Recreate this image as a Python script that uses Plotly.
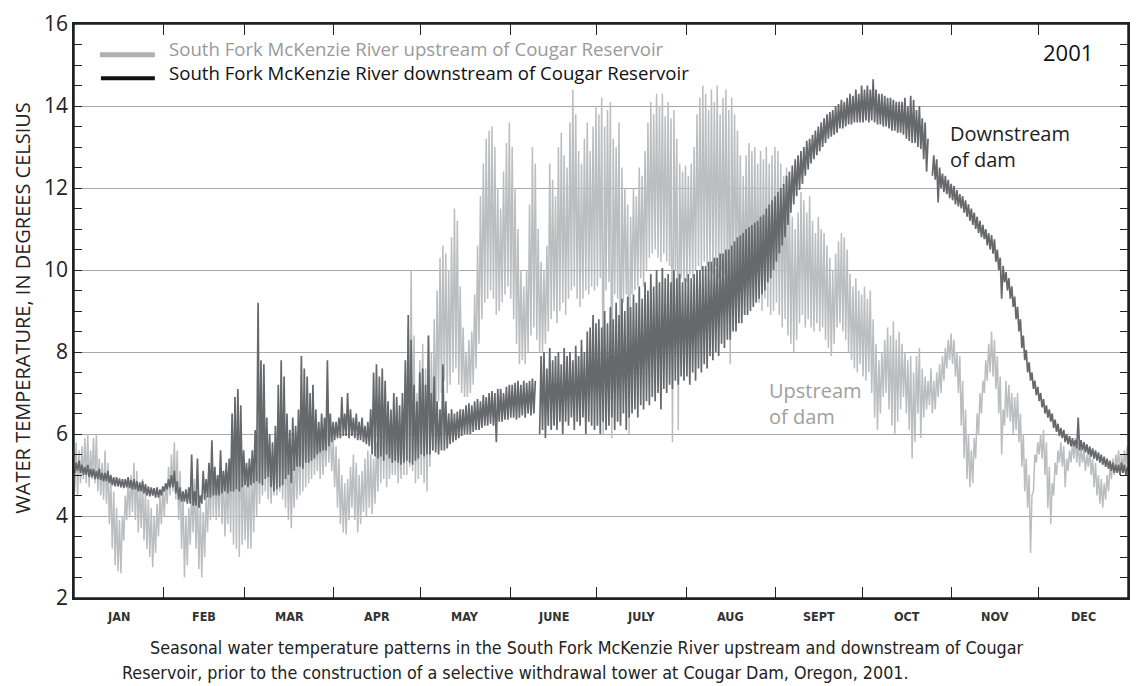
import plotly.graph_objects as go

# ---------------- data (daily low / high) ----------------
MONTHS = ["JAN", "FEB", "MAR", "APR", "MAY", "JUNE", "JULY", "AUG", "SEPT", "OCT", "NOV", "DEC"]
MONTH_DAYS = [31, 28, 31, 30, 31, 30, 31, 31, 30, 31, 30, 31]

# Downstream of Cougar Reservoir (dark)
DN_LO = [
    5.05,5.1,5.05,5.0,5.0,4.95,4.95,4.9,4.9,4.88,4.85,4.85,4.8,4.75,4.72,4.72,4.7,4.68,4.7,4.68,4.65,4.65,4.6,4.6,4.55,4.5,4.48,4.5,4.45,4.45,4.5,
    4.6,4.65,4.7,4.7,4.55,4.4,4.35,4.35,4.3,4.3,4.25,4.25,4.2,4.3,4.4,4.45,4.45,4.5,4.5,4.5,4.55,4.6,4.55,4.6,4.6,4.65,4.6,4.7,
    4.75,4.7,4.75,4.8,4.85,4.8,4.75,4.9,4.95,4.7,4.6,4.65,4.7,4.75,4.9,5.0,4.8,5.1,5.2,5.2,5.15,5.3,5.3,5.35,5.4,5.5,5.55,5.6,5.6,5.7,5.8,
    5.85,5.9,5.9,5.95,5.95,5.9,5.95,5.9,5.85,5.85,5.8,5.75,5.7,5.5,5.45,5.4,5.45,5.35,5.5,5.4,5.3,5.35,5.3,5.25,5.3,5.35,5.3,5.25,5.35,5.4,
    5.5,5.45,5.5,5.5,5.6,5.55,5.5,5.6,5.6,5.65,5.75,5.8,5.85,5.9,5.95,6.0,6.0,6.0,6.05,6.1,6.1,6.15,6.2,6.2,6.25,6.2,5.8,6.3,6.3,6.35,6.35,
    6.4,6.4,6.35,6.4,6.45,6.4,6.5,6.45,6.5,None,6.0,6.1,5.9,6.2,6.1,6.2,6.1,6.3,6.0,6.3,6.2,6.4,6.1,6.3,6.2,6.4,6.0,6.3,6.2,6.1,
    6.2,6.0,6.3,6.1,6.2,6.4,6.1,6.3,6.2,6.5,6.1,6.4,6.5,6.6,6.4,6.7,6.6,6.8,6.7,6.9,6.8,7.0,6.6,7.1,7.0,7.2,7.1,7.3,7.2,7.4,7.3,
    7.4,7.2,7.5,7.3,7.6,7.5,7.7,7.6,7.9,7.8,8.0,7.9,8.2,8.1,8.3,8.3,8.5,8.5,8.7,8.7,8.9,8.9,9.0,9.1,9.2,9.3,9.4,9.5,9.7,9.8,10.0,
    10.2,10.4,10.6,10.8,11.1,11.4,11.6,11.8,11.95,12.1,12.3,12.45,12.6,12.7,12.8,12.9,13.0,13.1,13.2,13.25,13.3,13.35,13.45,13.45,13.5,13.55,13.55,13.6,13.6,13.6,
    13.6,13.65,13.6,13.65,13.6,13.55,13.55,13.5,13.5,13.45,13.4,13.4,13.35,13.35,13.3,13.2,13.15,13.1,13.1,13.0,12.95,12.7,12.4,None,12.3,12.2,11.65,12.0,11.9,11.85,11.75,
    11.7,11.6,11.55,11.5,11.4,11.3,11.2,11.1,11.0,10.9,10.8,10.75,10.6,10.5,10.4,10.2,10.0,9.3,9.7,9.5,9.3,9.1,8.8,8.5,8.1,7.8,7.5,7.3,7.1,6.95,
    6.8,6.65,6.5,6.4,6.3,6.15,6.05,5.95,5.9,5.8,5.75,5.7,5.7,5.65,5.6,5.6,5.55,5.5,5.45,5.4,5.35,5.3,5.25,5.2,5.15,5.1,5.05,5.05,5.0,5.05,5.0,
]
DN_HI = [
    5.3,5.35,5.25,5.2,5.25,5.15,5.15,5.1,5.15,5.05,5.05,5.1,5.0,4.95,4.95,4.92,4.9,4.9,4.95,4.88,4.9,4.85,4.82,4.85,4.78,4.72,4.7,4.68,4.7,4.65,4.72,
    4.8,4.9,5.0,5.1,4.85,4.7,4.6,4.65,4.7,5.5,4.6,5.4,4.5,5.1,4.9,5.3,5.85,5.2,5.0,5.6,5.1,5.3,5.4,6.5,6.9,7.1,6.7,5.6,
    5.3,5.4,5.6,6.1,9.2,7.8,7.7,6.4,6.0,5.8,6.2,7.2,7.8,7.4,6.5,6.1,6.4,6.2,6.6,7.9,7.6,7.4,7.0,7.2,6.6,6.3,6.5,6.4,7.8,6.5,6.3,
    6.3,6.4,6.9,6.5,7.0,6.6,6.4,6.5,6.3,6.4,6.2,6.3,6.6,7.5,7.7,7.4,7.6,7.3,6.8,6.6,7.0,6.9,6.7,7.0,7.8,8.9,8.3,7.2,6.8,7.5,
    7.6,7.2,8.4,7.0,7.4,6.8,6.6,7.7,6.8,6.5,6.6,6.5,6.55,6.6,6.6,6.7,6.75,6.7,6.8,6.85,6.8,6.95,6.9,7.0,7.05,7.0,7.1,7.1,7.0,7.15,7.2,
    7.2,7.25,7.3,7.2,7.3,7.25,7.3,7.35,7.3,None,7.9,8.0,7.6,8.1,7.8,7.9,8.0,7.7,8.1,7.9,8.0,7.8,8.15,7.9,8.3,8.0,8.5,8.6,8.9,8.7,
    8.8,8.6,9.0,8.7,9.1,8.8,9.2,8.9,9.3,9.0,9.35,9.1,9.4,9.2,9.6,9.3,9.7,9.5,9.9,9.6,10.0,9.7,10.05,9.8,9.9,9.7,10.0,9.8,9.9,9.7,9.8,
    9.9,9.8,9.9,10.0,10.0,10.1,10.1,10.2,10.2,10.3,10.3,10.4,10.4,10.5,10.5,10.6,10.7,10.8,10.85,10.9,11.0,11.05,11.1,11.15,11.2,11.3,11.35,11.5,11.6,11.7,11.8,
    11.9,12.0,12.1,12.3,12.4,12.55,12.7,12.8,12.9,13.0,13.15,13.2,13.3,13.4,13.5,13.6,13.7,13.8,13.85,13.9,14.0,14.05,14.15,14.1,14.2,14.3,14.25,14.4,14.3,14.5,
    14.4,14.5,14.4,14.65,14.4,14.3,14.3,14.25,14.2,14.2,14.15,14.1,14.1,14.1,14.2,14.0,14.25,14.15,13.9,14.0,13.7,13.6,13.2,None,12.8,12.7,12.5,12.35,12.3,12.2,12.1,
    12.05,11.95,11.85,11.8,11.7,11.6,11.5,11.4,11.3,11.2,11.1,11.0,10.9,10.85,10.75,10.5,10.3,10.1,9.95,9.8,9.6,9.35,9.1,8.8,8.4,8.05,7.75,7.5,7.3,7.15,
    7.0,6.85,6.7,6.6,6.5,6.35,6.25,6.15,6.1,6.0,5.95,5.9,5.85,6.4,5.85,5.8,5.75,5.7,5.65,5.6,5.55,5.5,5.45,5.4,5.35,5.3,5.25,5.25,5.3,5.25,5.2,
]

# Upstream of Cougar Reservoir (light)
UP_LO = [
    4.6,4.5,4.8,4.9,4.8,4.7,4.9,4.8,4.6,4.5,4.4,4.3,3.8,3.2,2.8,2.65,2.6,3.4,3.9,4.0,4.1,3.9,3.6,3.7,3.4,3.2,3.0,2.75,3.1,3.5,3.8,
    4.0,4.3,4.5,4.6,4.4,3.9,3.2,2.5,2.8,3.3,3.6,3.2,2.7,2.5,3.0,3.6,3.9,4.0,3.9,4.0,3.8,3.5,3.8,3.6,3.3,3.2,3.0,3.3,
    3.4,3.2,3.2,3.6,4.0,4.3,4.5,4.6,4.4,4.3,4.5,4.5,4.6,4.4,4.2,3.9,3.7,4.2,4.4,4.5,4.6,4.7,4.8,4.9,5.0,5.1,4.9,5.0,5.2,5.3,5.1,
    4.7,4.2,3.8,3.6,3.55,3.9,4.2,3.9,3.6,3.8,4.1,4.0,4.2,4.05,4.3,4.6,4.8,4.9,4.7,4.9,5.0,5.0,4.8,4.9,5.0,5.0,5.2,5.1,4.8,4.9,
    5.0,4.8,4.6,5.2,5.6,6.2,6.8,7.0,7.3,7.0,7.2,7.5,7.6,7.2,7.0,6.9,6.9,7.0,7.2,7.6,8.2,8.8,9.2,9.3,9.5,9.3,8.9,9.0,9.2,9.4,9.6,
    9.3,8.8,8.2,7.7,7.8,7.7,8.0,8.4,8.6,8.3,8.0,8.0,8.2,8.5,8.8,9.0,8.7,9.0,9.2,8.9,9.3,9.5,9.6,9.3,9.1,9.3,9.5,9.4,9.6,9.5,
    9.6,9.8,6.0,9.5,9.7,5.9,9.4,9.3,6.3,9.2,9.4,6.0,9.4,9.5,9.6,9.8,9.6,10.0,10.3,10.4,10.5,10.3,10.2,10.4,10.2,10.1,5.8,10.0,6.1,9.8,9.7,
    9.7,9.9,9.8,10.0,10.1,10.0,10.2,10.1,10.0,9.9,10.1,9.8,10.0,9.9,9.7,7.7,9.8,9.6,9.5,9.3,9.5,9.4,9.6,9.3,9.5,9.2,9.0,9.3,9.1,8.9,9.0,
    9.2,8.9,8.6,8.8,8.4,8.2,8.0,8.3,8.7,8.9,8.6,8.8,8.6,8.5,8.7,8.5,8.6,8.3,8.1,7.9,8.2,8.6,8.7,8.5,8.3,8.0,7.8,7.6,7.5,7.7,
    7.4,7.3,7.5,7.0,6.4,6.1,6.5,6.9,7.0,6.6,6.2,6.0,6.3,6.6,6.9,6.5,6.1,5.4,5.8,6.5,5.9,6.4,6.6,6.7,6.5,6.6,6.9,7.0,7.3,7.6,7.8,
    7.7,7.4,7.0,6.2,5.4,4.9,4.7,4.8,5.4,6.0,6.5,7.0,7.3,7.5,7.4,7.1,6.5,5.5,6.2,6.4,6.3,6.0,6.1,5.8,5.2,4.6,4.2,3.1,4.6,5.3,
    5.5,5.4,5.0,4.2,3.8,4.5,5.0,5.3,5.2,4.7,5.1,5.3,5.4,5.3,5.2,5.3,5.1,5.2,5.0,4.7,4.5,4.3,4.2,4.4,4.6,4.9,5.0,5.2,5.0,5.1,5.2,
]
UP_HI = [
    5.8,5.6,5.7,5.9,6.0,5.6,5.9,6.0,5.4,5.3,5.6,5.3,4.9,4.6,4.2,3.9,4.0,4.5,4.9,5.0,5.3,5.1,4.8,4.9,4.6,4.4,4.2,4.0,4.3,4.5,4.7,
    4.8,5.2,5.5,5.8,5.6,5.1,4.6,4.0,4.2,4.7,4.9,4.6,4.3,4.1,4.5,4.9,5.5,5.2,5.0,5.4,5.1,4.9,5.3,6.3,6.6,6.9,6.3,5.3,
    5.0,5.1,5.3,5.6,6.0,6.2,6.4,6.0,5.6,5.5,5.9,6.5,6.8,6.4,5.9,5.5,5.3,5.6,6.0,6.8,7.0,6.8,6.5,6.6,6.3,6.2,6.2,6.1,6.6,6.2,5.9,
    5.7,5.4,5.0,4.8,4.9,5.2,5.5,5.3,5.0,5.1,5.4,5.6,5.5,5.4,5.8,6.6,7.0,7.2,6.5,6.3,6.6,6.5,6.2,6.6,7.5,8.6,10.0,8.4,7.0,7.8,
    8.2,7.6,8.4,8.0,8.8,9.5,10.3,10.6,10.4,10.0,10.8,11.5,11.2,9.6,8.6,8.0,8.3,8.5,9.4,10.6,11.8,12.6,13.2,13.4,13.5,13.0,12.0,11.5,12.4,13.1,13.6,
    13.0,12.0,11.0,10.0,9.6,10.0,11.6,13.0,12.6,11.0,10.2,10.0,10.6,12.6,12.2,11.8,13.0,13.35,12.8,12.5,13.6,14.4,13.8,12.9,12.6,13.2,13.6,12.9,13.5,14.0,
    13.8,14.2,13.5,13.9,14.1,13.2,13.0,13.6,12.5,12.0,11.6,11.3,12.0,11.8,12.5,12.3,12.9,13.6,14.1,13.8,14.3,14.0,14.3,13.75,14.1,13.7,13.9,13.2,12.6,12.4,12.55,
    12.3,12.6,13.0,13.8,14.2,14.5,14.3,13.9,14.4,14.1,14.5,13.8,14.2,14.4,13.9,14.2,13.8,13.4,12.8,12.3,12.8,13.1,12.9,13.0,12.6,12.9,12.7,13.0,12.6,12.8,13.0,
    12.9,12.6,12.3,12.5,11.8,11.3,11.0,11.4,11.9,11.7,11.4,11.8,11.2,10.9,11.3,11.0,10.9,10.6,10.3,10.0,10.4,10.7,10.9,10.8,10.5,9.9,9.6,9.8,9.5,9.4,
    9.6,9.3,9.5,8.8,8.2,7.8,8.0,8.3,8.6,8.4,8.75,8.3,8.5,8.2,8.0,7.8,7.9,7.5,7.9,8.1,7.6,7.4,7.3,7.6,7.3,7.5,7.7,7.9,8.1,8.3,8.45,
    8.3,8.0,7.9,7.3,6.6,6.0,5.6,5.9,6.5,7.0,7.3,7.8,8.2,8.5,8.3,7.9,7.4,6.6,7.3,7.2,7.0,6.9,7.0,6.5,6.0,5.4,5.0,4.5,5.5,5.8,
    6.0,6.1,5.8,5.2,4.8,5.3,5.6,5.8,5.7,5.4,5.6,5.8,5.9,5.8,5.7,5.6,5.5,5.6,5.4,5.3,5.0,4.9,4.8,5.0,5.2,5.4,5.5,5.6,5.5,5.6,5.7,
]

Y_MIN, Y_MAX, Y_STEP = 2, 16, 2

# ---------------- build traces ----------------
def zigzag(lo, hi):
    xs, ys = [], []
    for d, (a, b) in enumerate(zip(lo, hi)):
        xs += [d + 0.25, d + 0.75]
        ys += [a, b]
    return xs, ys

ux, uy = zigzag(UP_LO, UP_HI)
dx, dy = zigzag(DN_LO, DN_HI)

LIGHT = "#bcbdbf"
DARK = "#67686b"

fig = go.Figure()
fig.add_trace(go.Scatter(x=ux, y=uy, mode="lines", line=dict(color=LIGHT, width=1.5),
                         connectgaps=False, hoverinfo="skip", showlegend=False))
fig.add_trace(go.Scatter(x=dx, y=dy, mode="lines", line=dict(color=DARK, width=1.7),
                         connectgaps=False, hoverinfo="skip", showlegend=False))

bounds = [0]
for n in MONTH_DAYS:
    bounds.append(bounds[-1] + n)
mids = [(bounds[i] + bounds[i + 1]) / 2 for i in range(12)]

FONT = "Open Sans, Noto Sans, sans-serif"
NARROW = "Liberation Sans Narrow, DejaVu Sans Condensed, Roboto, sans-serif"

annotations = []
for m, lab in zip(mids, MONTHS):
    annotations.append(dict(x=m, y=-0.033, xref="x", yref="paper", text="<b>%s</b>" % lab, showarrow=False,
                            font=dict(family=NARROW, size=12.5, color="#333333"),
                            xanchor="center", yanchor="middle"))

def px_x(p):
    return (p - 74) / 1056.0

def px_y(p):
    return (598 - p) / 581.0

annotations += [
    dict(x=px_x(22), y=px_y(305), xref="paper", yref="paper", text="WATER TEMPERATURE, IN DEGREES CELSIUS",
         textangle=-90, showarrow=False, font=dict(family=FONT, size=20, color="#222222"),
         xanchor="center", yanchor="middle"),
    dict(x=px_x(167), y=px_y(54), xref="paper", yref="paper",
         text=("<span style='color:#9a9a9a'>South Fork McKenzie River upstream of Cougar Reservoir</span><br>"
               "<span style='color:#111111'>South Fork McKenzie River downstream of Cougar Reservoir</span>"),
         showarrow=False, align="left",
         font=dict(family=FONT, size=18.6, color="#111111"), xanchor="left", yanchor="middle"),
    dict(x=px_x(1097), y=px_y(45), xref="paper", yref="paper", text="2001", showarrow=False,
         font=dict(family=FONT, size=22, color="#111111"), xanchor="right", yanchor="middle"),
    dict(x=px_x(950), y=px_y(141), xref="paper", yref="paper", text="Downstream<br>of dam", showarrow=False,
         align="left", font=dict(family=FONT, size=20, color="#222222"), xanchor="left", yanchor="middle"),
    dict(x=px_x(768), y=px_y(401), xref="paper", yref="paper", text="Upstream<br>of dam", showarrow=False,
         align="left", font=dict(family=FONT, size=20, color="#a0a0a0"), xanchor="left", yanchor="middle"),
    dict(x=px_x(148), y=px_y(648), xref="paper", yref="paper",
         text="Seasonal water temperature patterns in the South Fork McKenzie River upstream and downstream of Cougar",
         showarrow=False, font=dict(family=NARROW, size=17.8, color="#222222"), xanchor="left", yanchor="middle"),
    dict(x=px_x(120), y=px_y(673), xref="paper", yref="paper",
         text="Reservoir, prior to the construction of a selective withdrawal tower at Cougar Dam, Oregon, 2001.",
         showarrow=False, font=dict(family=NARROW, size=17.8, color="#222222"), xanchor="left", yanchor="middle"),
]

shapes = [
    dict(type="line", xref="paper", yref="paper", x0=px_x(100), x1=px_x(155), y0=px_y(48), y1=px_y(48),
         line=dict(color="#b0b0b0", width=5)),
    dict(type="line", xref="paper", yref="paper", x0=px_x(101), x1=px_x(155), y0=px_y(72), y1=px_y(72),
         line=dict(color="#111111", width=4)),
    dict(type="rect", xref="paper", yref="paper", x0=0, x1=1, y0=0, y1=1,
         line=dict(color="#222222", width=1.5), fillcolor="rgba(0,0,0,0)", layer="above"),
]

fig.update_layout(
    width=1139, height=686,
    margin=dict(l=74, r=9, t=17, b=88),
    plot_bgcolor="white", paper_bgcolor="white",
    showlegend=False,
    annotations=annotations, shapes=shapes,
    xaxis=dict(range=[0, 365], tickmode="array", tickvals=bounds, ticktext=[""] * len(bounds),
               ticks="inside", ticklen=11, tickwidth=1.3, tickcolor="#222", showline=True,
               linecolor="#222", linewidth=1.5, mirror="allticks", showgrid=False, zeroline=False,
               fixedrange=True),
    yaxis=dict(range=[Y_MIN, Y_MAX], tickmode="linear", tick0=Y_MIN, dtick=Y_STEP, ticks="inside",
               ticklen=8, tickwidth=1.3, tickcolor="#222", showline=True, linecolor="#222",
               linewidth=1.5, mirror="allticks", showgrid=True, gridcolor="#a8a8a8", gridwidth=1.3,
               zeroline=False, tickfont=dict(family=FONT, size=21, color="#222222"),
               minor=dict(dtick=Y_STEP / 4, ticks="inside", ticklen=8, tickcolor="#222",
                          tickwidth=1.2, showgrid=False),
               fixedrange=True),
)

fig.write_html("out.html")
